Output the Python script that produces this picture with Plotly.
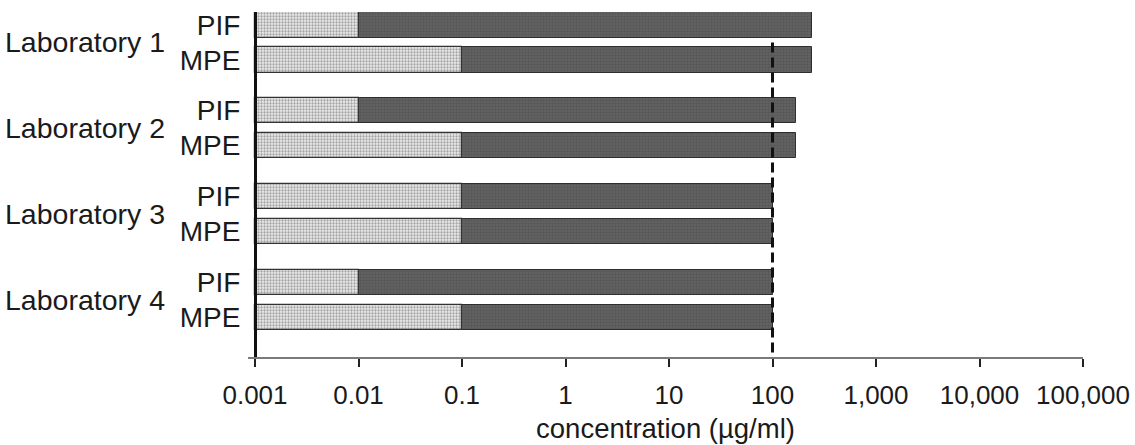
import math
import plotly.graph_objects as go

# ---- data -----------------------------------------------------------------
laboratories = ["Laboratory 1", "Laboratory 2", "Laboratory 3", "Laboratory 4"]
methods = ["PIF", "MPE"]

# lower limit of the measured range (stippled segment ends here)
pif_low = [0.01, 0.01, 0.1, 0.01]
mpe_low = [0.1, 0.1, 0.1, 0.1]
# upper limit of the measured range (dark segment ends here)
pif_high = [240, 170, 100, 100]
mpe_high = [240, 170, 100, 100]

axis_start = 0.001
threshold = 100

tick_values = [0.001, 0.01, 0.1, 1, 10, 100, 1000, 10000, 100000]
tick_labels = ["0.001", "0.01", "0.1", "1", "10", "100", "1,000", "10,000", "100,000"]

# ---- layout helpers ---------------------------------------------------------
group_pitch = 2.45
rows_y, rows_text, lows, highs = [], [], [], []
for i in range(len(laboratories)):
    for j, m in enumerate(methods):
        rows_y.append(i * group_pitch + j)
        rows_text.append(m)
    lows += [pif_low[i], mpe_low[i]]
    highs += [pif_high[i], mpe_high[i]]

FONT = "Liberation Sans, Arial, Helvetica, sans-serif"
TXT = "#1a1a1a"
bar_w = 0.72

fig = go.Figure()

# full range bar (dark)
fig.add_trace(go.Bar(
    orientation="h",
    y=rows_y,
    base=[axis_start] * len(rows_y),
    x=[h - axis_start for h in highs],
    width=bar_w,
    marker=dict(
        color="#646464",
        line=dict(color="#2e2e2e", width=1),
        pattern=dict(shape=".", fgcolor="#4a4a4a", size=3, solidity=0.5),
    ),
    showlegend=False,
    hoverinfo="skip",
))

# low segment (stippled)
fig.add_trace(go.Bar(
    orientation="h",
    y=rows_y,
    base=[axis_start] * len(rows_y),
    x=[lo - axis_start for lo in lows],
    width=bar_w,
    marker=dict(
        color="#ececec",
        line=dict(color="#333333", width=1.2),
        pattern=dict(shape=".", fgcolor="#5a5a5a", size=3, solidity=0.45),
    ),
    showlegend=False,
    hoverinfo="skip",
))

# y extent of the plotting area (reversed)
y_top = -0.37
y_bottom = 9.49

# threshold line
fig.add_trace(go.Scatter(
    x=[threshold, threshold],
    y=[0.5, y_bottom],
    mode="lines",
    line=dict(color="#111111", width=3, dash="10px,5px"),
    showlegend=False,
    hoverinfo="skip",
    cliponaxis=False,
))

# laboratory group labels
for i, lab in enumerate(laboratories):
    fig.add_annotation(
        x=0, xref="paper", xanchor="right", xshift=-81,
        y=i * group_pitch + 0.5, yref="y", yanchor="middle",
        text=lab, showarrow=False,
        font=dict(family=FONT, size=28.5, color=TXT),
    )

left_px, right_px = 248, 1083
decade_px = (right_px - 255) / 8.0
x_lo = math.log10(axis_start) - (255 - left_px) / decade_px

fig.update_layout(
    width=1135, height=445,
    margin=dict(l=left_px, r=1135 - right_px, t=12, b=445 - 357, autoexpand=False),
    paper_bgcolor="white", plot_bgcolor="white",
    barmode="overlay",
    bargap=0,
    font=dict(family=FONT, size=26, color=TXT),
    xaxis=dict(
        type="log",
        range=[x_lo, 5],
        automargin=False,
        tickvals=tick_values,
        ticktext=tick_labels,
        ticks="outside", ticklen=8, tickwidth=2, tickcolor="#222",
        showline=True, linecolor="#7a7a7a", linewidth=2,
        showgrid=False, zeroline=False,
        tickfont=dict(family=FONT, size=26, color=TXT),
        ticklabelstandoff=6,
        title=dict(text="concentration (µg/ml)", standoff=10,
                   font=dict(family=FONT, size=27.5, color=TXT)),
    ),
    yaxis=dict(
        range=[y_bottom, y_top],
        automargin=False,
        tickvals=rows_y,
        ticktext=rows_text,
        ticks="",
        showline=True, linecolor="#111", linewidth=3,
        anchor="free", position=(255 - left_px) / (right_px - left_px),
        showgrid=False, zeroline=False,
        tickfont=dict(family=FONT, size=28, color=TXT),
        ticklabelstandoff=8,
    ),
)

fig.write_html("out.html")
